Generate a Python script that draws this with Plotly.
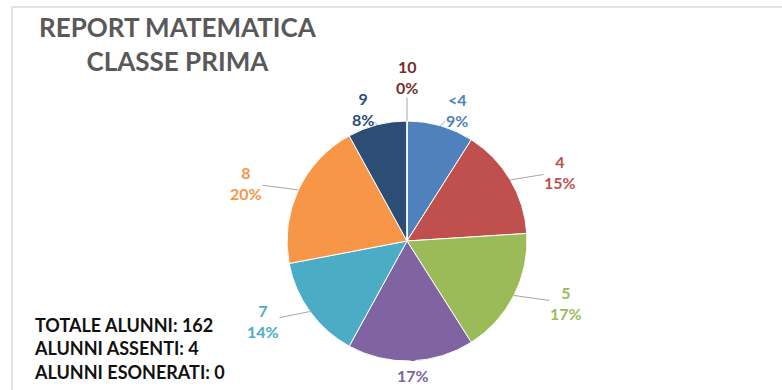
import math
import plotly.graph_objects as go

# Distribuzione dei voti (percentuali sugli alunni presenti)
voti = ["<4", "4", "5", "6", "7", "8", "9", "10"]
percentuali = [9, 15, 17, 17, 14, 20, 8, 0]
colori = ["#4F81BD", "#C0504D", "#9BBB59", "#8064A2",
          "#4BACC6", "#F79646", "#2C4D75", "#772C2A"]

titolo = ["REPORT MATEMATICA", "CLASSE PRIMA"]
riepilogo = ["TOTALE ALUNNI: 162", "ALUNNI ASSENTI: 4", "ALUNNI ESONERATI: 0"]

W, H = 782, 390
cx, cy, r = 407, 241, 120          # centro e raggio della torta (pixel)
FONT = "Lato"

fig = go.Figure(go.Pie(
    labels=voti,
    values=percentuali,
    sort=False,
    direction="clockwise",
    rotation=0,
    marker=dict(colors=colori, line=dict(color="white", width=1)),
    textinfo="none",
    hoverinfo="label+percent",
    showlegend=False,
    domain=dict(x=[(cx - r) / W, (cx + r) / W],
                y=[(H - cy - r) / H, (H - cy + r) / H]),
))

# Etichette esterne con linee guida: il punto d'attacco sta sul bordo
# a metà spicchio, il testo viene spostato soprattutto in orizzontale.
annotations = []
totale = sum(percentuali)
cumulato = 0.0
for voto, p, col in zip(voti, percentuali, colori):
    mid = (cumulato + p / 2) / totale * 2 * math.pi
    cumulato += p
    sx, sy = math.sin(mid), -math.cos(mid)
    ex, ey = cx + r * sx, cy + r * sy                 # punto sul bordo
    spinta = 44 if p == 0 else 16                      # spicchio vuoto: etichetta più in alto
    tx = cx + (r + 58) * sx
    ty = min(cy + (r + spinta) * sy, H - 25)           # resta dentro il riquadro
    annotations.append(dict(
        x=ex / W, y=1 - ey / H, xref="paper", yref="paper",
        ax=tx - ex, ay=ty - ey, axref="pixel", ayref="pixel",
        text=f"<b>{voto}<br>{p}%</b>",
        showarrow=True, arrowhead=0, arrowwidth=1, arrowcolor="#A6A6A6",
        standoff=0, startstandoff=0, borderpad=0,
        font=dict(family=FONT, size=16, color=col), align="center",
    ))

annotations += [
    dict(text="<b>" + "<br>".join(titolo) + "</b>",
         x=178 / W, y=1 - 9 / H, xref="paper", yref="paper",
         xanchor="center", yanchor="top", showarrow=False, align="center",
         font=dict(family=FONT, size=26, color="#595959")),
    dict(text="<b>" + "<br>".join(riepilogo) + "</b>",
         x=32 / W, y=1 - 312 / H, xref="paper", yref="paper",
         xanchor="left", yanchor="top", showarrow=False, align="left",
         font=dict(family=FONT, size=18, color="#111111")),
]

fig.update_layout(
    width=W, height=H,
    margin=dict(l=0, r=0, t=0, b=0),
    paper_bgcolor="white",
    annotations=annotations,
    shapes=[dict(type="rect", xref="paper", yref="paper",
                 x0=12 / W, x1=1.05, y0=-0.05, y1=1 - 7 / H,
                 line=dict(color="#D9D9D9", width=1.5))],
)

fig.write_html("out.html")
